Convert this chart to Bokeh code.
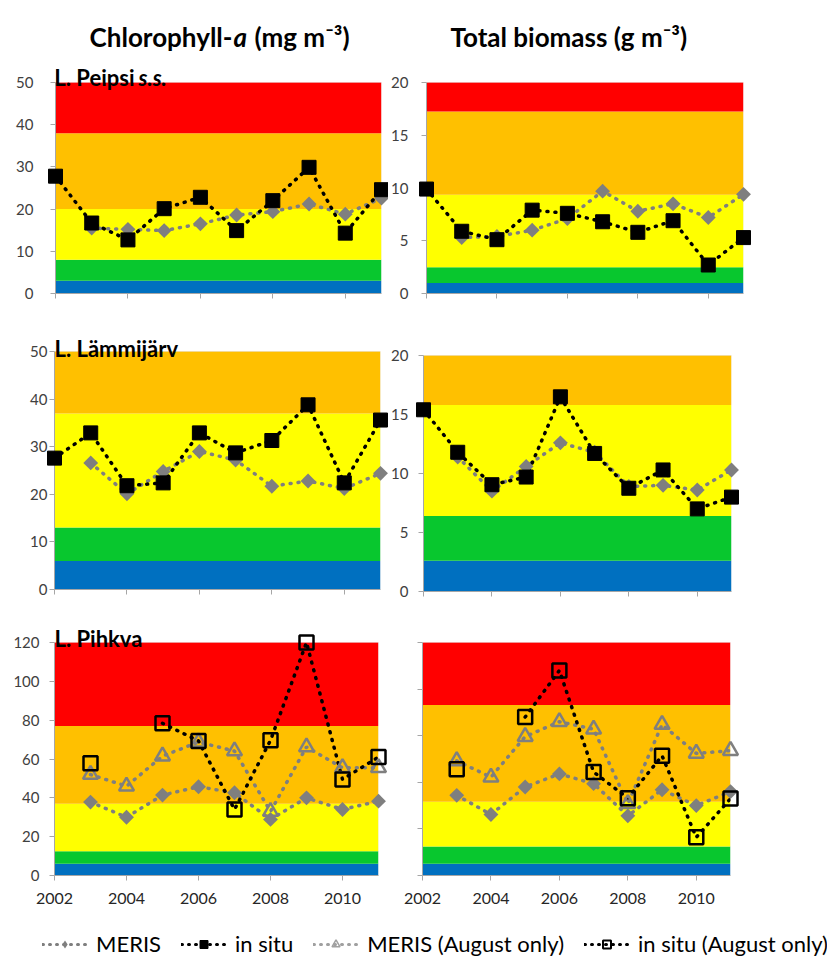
import numpy as np
from bokeh.plotting import figure
from bokeh.models import (BoxAnnotation, FixedTicker, Label, Legend, LegendItem, Range1d,
                          CustomJSTickFormatter)
from bokeh.layouts import column, row
from bokeh.embed import file_html
from bokeh.resources import INLINE

nan = np.nan

# ---------------- data ----------------
years = [2002, 2003, 2004, 2005, 2006, 2007, 2008, 2009, 2010, 2011]
x_ticks = [2002, 2004, 2006, 2008, 2010]
x_limits = [2002, 2011]

# L. Peipsi s.s.
chl_peipsi_meris = [nan, 15.5, 15.2, 14.9, 16.5, 18.6, 19.4, 21.2, 18.8, 22.6]
chl_peipsi_insitu = [27.8, 16.7, 12.7, 20.1, 22.8, 14.9, 22.0, 29.9, 14.3, 24.6]
bio_peipsi_meris = [nan, 5.3, 5.4, 6.0, 7.1, 9.7, 7.8, 8.5, 7.2, 9.4]
bio_peipsi_insitu = [9.9, 5.9, 5.1, 7.9, 7.6, 6.8, 5.8, 6.9, 2.7, 5.3]

# L. Lämmijärv
chl_lammi_meris = [nan, 26.6, 20.1, 24.8, 29.0, 27.2, 21.7, 22.8, 21.2, 24.4]
chl_lammi_insitu = [27.6, 32.9, 21.8, 22.4, 32.9, 28.7, 31.3, 38.8, 22.4, 35.6]
bio_lammi_meris = [nan, 11.4, 8.5, 10.6, 12.6, 11.8, 8.9, 9.0, 8.6, 10.3]
bio_lammi_insitu = [15.4, 11.8, 9.05, 9.7, 16.5, 11.7, 8.75, 10.3, 7.0, 8.0]

# L. Pihkva
chl_pihkva_meris = [nan, 37.8, 30.0, 41.4, 45.7, 42.6, 28.9, 40.0, 34.0, 38.3]
chl_pihkva_meris_aug = [nan, 52.0, 46.0, 61.5, 68.7, 64.1, 33.0, 66.2, 55.5, 55.5]
chl_pihkva_insitu_aug = [nan, 57.8, nan, 78.4, 69.3, 34.0, 69.6, 120.0, 49.5, 61.0]
bio_pihkva_meris = [nan, 8.6, 6.55, 9.5, 10.9, 9.85, 6.4, 9.2, 7.5, 9.0]
bio_pihkva_meris_aug = [nan, 12.3, 10.55, 14.9, 16.5, 15.7, 7.7, 16.2, 13.1, 13.4]
bio_pihkva_insitu_aug = [nan, 11.4, nan, 17.0, 22.0, 11.1, 8.3, 12.85, 4.1, 8.25]

# status class boundaries (bottom-to-top)
bands_chl_peipsi = [0, 3, 8, 20, 38, 50]
bands_bio_peipsi = [0, 1, 2.5, 9.35, 17.25, 20]
bands_chl_lammi = [0, 6, 13, 37, 50]
bands_bio_lammi = [0, 2.6, 6.4, 15.8, 20]
bands_chl_pihkva = [0, 6, 12.5, 37, 77, 120]
bands_bio_pihkva = [0, 1.25, 3.1, 7.9, 18.3, 25]
band_colors = ["#0070C0", "#08C72E", "#FFFF00", "#FFC000", "#FF0000"]

# y axis limits / tick steps
ylim_chl_peipsi, ystep_chl_peipsi = [0, 50], 10
ylim_bio_peipsi, ystep_bio_peipsi = [0, 20], 5
ylim_chl_lammi, ystep_chl_lammi = [0, 50], 10
ylim_bio_lammi, ystep_bio_lammi = [0, 20], 5
ylim_chl_pihkva, ystep_chl_pihkva = [0, 120], 20
ylim_bio_pihkva, ystep_bio_pihkva = [0, 25], 5

FONT = "Lato"
AXIS_GRAY = "#a6a6a6"
TICK_TEXT = "#404040"
MERIS_GRAY = "#7f7f7f"
DOT = "1 7"
EMPTY = CustomJSTickFormatter(code="return ''")


def make_panel(ylim, ystep, bands, fw, data_h, head_h, bl, br, bb, xlabels, ylabels, ystandoff):
    # the frame extends head_h px above the data area so that titles can be drawn inside it
    fh = data_h + head_h
    y_top = ylim[0] + (ylim[1] - ylim[0]) * fh / data_h
    p = figure(frame_width=fw, frame_height=fh,
               min_border_left=bl, min_border_right=br, min_border_top=0, min_border_bottom=bb,
               x_range=Range1d(*x_limits), y_range=Range1d(ylim[0], y_top),
               output_backend="svg", toolbar_location=None,
               background_fill_color="white", border_fill_color="white",
               outline_line_color=None)
    p.grid.visible = False
    for lo, hi, c in zip(bands[:-1], bands[1:], band_colors):
        p.add_layout(BoxAnnotation(bottom=lo, top=hi, fill_color=c, fill_alpha=1.0,
                                   line_color=None, level="underlay"))
    p.add_layout(BoxAnnotation(bottom=ylim[0], top=ylim[1], fill_color=None,
                               line_color="#cfcfcf", line_width=1, level="underlay"))
    p.xaxis.ticker = FixedTicker(ticks=x_ticks)
    p.yaxis.ticker = FixedTicker(ticks=[float(v) for v in np.arange(ylim[0], ylim[1] + ystep, ystep)])
    p.yaxis.bounds = (ylim[0], ylim[1])
    for ax in (p.xaxis[0], p.yaxis[0]):
        ax.axis_line_color = AXIS_GRAY
        ax.major_tick_line_color = AXIS_GRAY
        ax.minor_tick_line_color = None
        ax.major_tick_in = 0
        ax.major_label_text_font = FONT
        ax.major_label_text_color = TICK_TEXT
    p.xaxis.major_tick_out = 5
    p.yaxis.major_tick_out = 5
    if xlabels:
        p.xaxis.major_label_text_font_size = "16px"
        p.xaxis.major_label_standoff = 12
        p.xaxis.major_label_text_color = "#262626"
    else:
        p.xaxis.formatter = EMPTY
        p.xaxis.major_label_standoff = 0
    if ylabels:
        p.yaxis.major_label_text_font_size = "15px"
        p.yaxis.major_label_standoff = ystandoff
    else:
        p.yaxis.formatter = EMPTY
        p.yaxis.major_label_standoff = 0
    return p


def add_series(p, meris=None, insitu=None, meris_aug=None, insitu_aug=None):
    if meris is not None:
        p.line(years, meris, line_color=MERIS_GRAY, line_width=3.5, line_dash=DOT, line_cap="round")
    if meris_aug is not None:
        p.line(years, meris_aug, line_color=MERIS_GRAY, line_width=3.5, line_dash=DOT, line_cap="round")
    if insitu_aug is not None:
        p.line(years, insitu_aug, line_color="black", line_width=3.5, line_dash=DOT, line_cap="round")
    if insitu is not None:
        p.line(years, insitu, line_color="black", line_width=3.5, line_dash=DOT, line_cap="round")
    if meris is not None:
        p.scatter(years, meris, marker="square", angle=np.pi / 4, size=10.5,
                  fill_color=MERIS_GRAY, line_color=None, level="overlay")
    if meris_aug is not None:
        p.scatter(years, meris_aug, marker="triangle", size=15, fill_color=None,
                  line_color=MERIS_GRAY, line_width=2.5, level="overlay")
    if insitu_aug is not None:
        p.scatter(years, insitu_aug, marker="square", size=14, fill_color=None,
                  line_color="black", line_width=2.5, level="overlay")
    if insitu is not None:
        p.scatter(years, insitu, marker="square", size=14, fill_color="black",
                  line_color="black", level="overlay")


def label(p, text, x, y, size, style="bold", align="left"):
    p.add_layout(Label(x=x, y=y, x_units="screen", y_units="screen", text=text,
                       text_font=FONT, text_font_size=size, text_font_style=style,
                       text_color="black", text_align=align, text_baseline="alphabetic"))


# ---------------- panels ----------------
#                ylim, step, bands, frame_w, data_h, head_h, border_l, border_r, border_b, xlab, ylab, standoff
p1 = make_panel(ylim_chl_peipsi, ystep_chl_peipsi, bands_chl_peipsi, 326, 211, 82, 55, 7, 22, False, True, 17)
add_series(p1, meris=chl_peipsi_meris, insitu=chl_peipsi_insitu)
p2 = make_panel(ylim_bio_peipsi, ystep_bio_peipsi, bands_bio_peipsi, 317, 211, 82, 38, 84, 22, False, True, 13)
add_series(p2, meris=bio_peipsi_meris, insitu=bio_peipsi_insitu)

p3 = make_panel(ylim_chl_lammi, ystep_chl_lammi, bands_chl_lammi, 326, 238, 36, 54, 8, 16, False, True, 2)
add_series(p3, meris=chl_lammi_meris, insitu=chl_lammi_insitu)
p4 = make_panel(ylim_bio_lammi, ystep_bio_lammi, bands_bio_lammi, 308, 236, 40, 35, 96, 14, False, True, 10)
add_series(p4, meris=bio_lammi_meris, insitu=bio_lammi_insitu)

p5 = make_panel(ylim_chl_pihkva, ystep_chl_pihkva, bands_chl_pihkva, 324, 233, 37, 54, 10, 38, True, True, 10)
add_series(p5, meris=chl_pihkva_meris, meris_aug=chl_pihkva_meris_aug, insitu_aug=chl_pihkva_insitu_aug)
p6 = make_panel(ylim_bio_pihkva, ystep_bio_pihkva, bands_bio_pihkva, 308, 233, 37, 34, 97, 38, True, False, 0)
add_series(p6, meris=bio_pihkva_meris, meris_aug=bio_pihkva_meris_aug, insitu_aug=bio_pihkva_insitu_aug)

# column titles (screen units relative to frame bottom-left)
label(p1, "Chlorophyll-", 177, 257, "26px", "bold", "right")
label(p1, "a", 178, 257, "26px", "bold italic", "left")
label(p1, "(mg m\u207b\u00b3)", 199, 257, "26px", "bold", "left")
label(p2, "Total biomass (g m\u207b\u00b3)", 24, 257, "26px", "bold", "left")

# lake labels
label(p1, "L. Peipsi", 79, 216, "22px", "bold", "right")
label(p1, "s.s.", 83, 216, "22px", "bold italic", "left")
label(p3, "L. Lämmijärv", 0, 241, "22px", "bold", "left")
label(p5, "L. Pihkva", 0, 237, "22px", "bold", "left")

# ---------------- legend ----------------
leg = figure(frame_width=827, frame_height=46, min_border=0, x_axis_type=None, y_axis_type=None,
             toolbar_location=None, output_backend="svg", outline_line_color=None,
             background_fill_color="white", border_fill_color="white")
leg.grid.visible = False
dummy = [nan]
l1 = leg.line(dummy, dummy, line_color=MERIS_GRAY, line_width=3, line_dash="1 6", line_cap="round")
s1 = leg.scatter(dummy, dummy, marker="diamond", size=15, fill_color=MERIS_GRAY, line_color=None)
l2 = leg.line(dummy, dummy, line_color="black", line_width=3, line_dash="1 6", line_cap="round")
s2 = leg.scatter(dummy, dummy, marker="square", size=13, fill_color="black", line_color="black")
l3 = leg.line(dummy, dummy, line_color="#a0a0a0", line_width=3, line_dash="1 6", line_cap="round")
s3 = leg.scatter(dummy, dummy, marker="triangle", size=12, fill_color=None, line_color="#a0a0a0", line_width=1.5)
l4 = leg.line(dummy, dummy, line_color="black", line_width=3, line_dash="1 6", line_cap="round")
s4 = leg.scatter(dummy, dummy, marker="square", size=12, fill_color=None, line_color="black", line_width=2)
legend = Legend(items=[LegendItem(label="MERIS", renderers=[l1, s1]),
                       LegendItem(label="in situ", renderers=[l2, s2]),
                       LegendItem(label="MERIS (August only)", renderers=[l3, s3]),
                       LegendItem(label="in situ (August only)", renderers=[l4, s4])],
                orientation="horizontal", location=(42, 2),
                glyph_width=45, glyph_height=20, label_height=20, label_standoff=9, spacing=20,
                padding=0, margin=0, border_line_color=None, background_fill_alpha=0,
                label_text_font=FONT, label_text_font_size="22px", label_text_color="black")
leg.add_layout(legend, "center")

layout = column(row(p1, p2), row(p3, p4), row(p5, p6), leg)
open("out.html", "w").write(file_html(layout, INLINE))
